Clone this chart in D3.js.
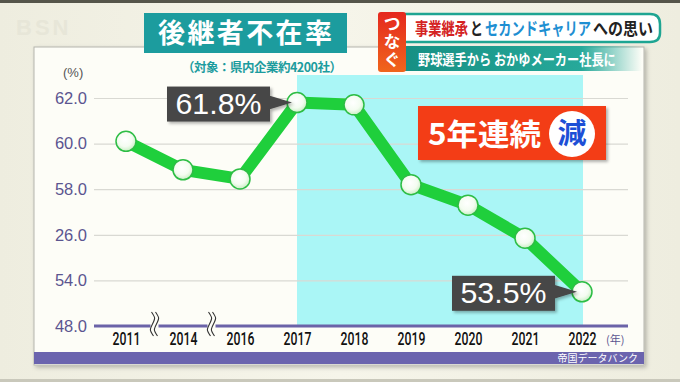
<!DOCTYPE html>
<html><head><meta charset="utf-8">
<script src="https://cdn.jsdelivr.net/npm/d3@7"></script>
<style>
html,body{margin:0;padding:0;background:#f1f0e3;}
svg{display:block;}
</style></head>
<body>
<svg id="c" width="680" height="382"></svg>
<script>
// ---- data ----
const years = ["2011","2014","2016","2017","2018","2019","2020","2021","2022"];
const rates = [60.1, 58.85, 58.45, 61.8, 61.7, 58.2, 57.3, 55.85, 53.5];
const yTickValues = [62, 60, 58, 56, 54, 52];
const yTickLabels = ["62.0", "60.0", "58.0", "26.0", "54.0", "48.0"];
const highlightFrom = "2017", highlightTo = "2022";
const callouts = [{year:"2017", text:"61.8%"}, {year:"2022", text:"53.5%"}];

const svg = d3.select("#c");
const defs = svg.append("defs");

// helper: squeeze a text horizontally to a target width using a transform
function fitText(sel, x0, yb, w){
  const nat = sel.node().getComputedTextLength();
  const sx = Math.min(1.2, w / nat);
  sel.attr("x", 0).attr("y", 0).attr("transform", `translate(${x0},${yb}) scale(${sx},1)`);
  return sel;
}

// background
const bg = defs.append("linearGradient").attr("id","bg").attr("x1",0).attr("x2",1).attr("y1",0).attr("y2",0);
bg.append("stop").attr("offset","0").attr("stop-color","#eeeddf");
bg.append("stop").attr("offset","0.5").attr("stop-color","#f6f5ea");
bg.append("stop").attr("offset","1").attr("stop-color","#eeeddf");
svg.append("rect").attr("width",680).attr("height",382).attr("fill","url(#bg)");
svg.append("rect").attr("width",680).attr("height",3).attr("fill","#55554a");
svg.append("rect").attr("y",379).attr("width",680).attr("height",3).attr("fill","#c9c8bb");

// BSN logo (faint)
svg.append("text").attr("x",16).attr("y",35).text("BSN")
  .attr("font-family","Liberation Sans, sans-serif").attr("font-weight","bold")
  .attr("font-size",22).attr("fill","#e7e6d8").attr("letter-spacing",3);

// panel
const sh = defs.append("filter").attr("id","sh").attr("x","-5%").attr("y","-5%").attr("width","115%").attr("height","115%");
sh.append("feDropShadow").attr("dx",2).attr("dy",2).attr("stdDeviation",2).attr("flood-color","#000").attr("flood-opacity",0.25);
svg.append("rect").attr("x",34).attr("y",47).attr("width",610).attr("height",318)
  .attr("fill","#fdfdf7").attr("stroke","#b5b5ad").attr("stroke-width",1).attr("filter","url(#sh)");

// scales
const x = d3.scalePoint().domain(years).range([126, 582]);
const y = d3.scaleLinear().domain([52, 62]).range([326, 98]);

// highlight band
svg.append("rect").attr("x", x(highlightFrom)).attr("y", 75)
  .attr("width", x(highlightTo) - x(highlightFrom) + 1).attr("height", y(52) - 75)
  .attr("fill", "#aaf6f6");

// y axis with gridlines
const gy = svg.append("g").attr("transform","translate(94,0)")
  .call(d3.axisLeft(y).tickValues(yTickValues).tickFormat((d,i)=>yTickLabels[i]).tickSize(-534).tickPadding(7));
gy.select(".domain").remove();
gy.selectAll(".tick line").attr("stroke","#d9d9d3").attr("stroke-width",1.2);
gy.selectAll(".tick text").attr("font-family","Liberation Sans, Arial, sans-serif")
  .attr("font-size",16.5).attr("fill","#5b5590");
gy.selectAll(".tick").filter(d=>d===52).select("line").remove();

// baseline
svg.append("line").attr("x1",94).attr("x2",628).attr("y1",y(52)).attr("y2",y(52))
  .attr("stroke","#6b63a8").attr("stroke-width",3);

// x axis labels
const gx = svg.append("g").attr("transform",`translate(0,${y(52)})`)
  .call(d3.axisBottom(x).tickSize(0).tickPadding(0));
gx.select(".domain").remove();
gx.selectAll(".tick text").attr("dy",null).attr("y",19.5)
  .attr("font-family","Roboto, Liberation Sans, sans-serif").attr("font-weight",500)
  .attr("font-size",18).attr("fill","#111").attr("transform","scale(0.68,1)");

svg.append("text").attr("x",606).attr("y",344).text("(年)")
  .attr("font-family","Noto Sans CJK JP").attr("font-size",11).attr("fill","#5b5590");
svg.append("text").attr("x",63).attr("y",77).text("(%)")
  .attr("font-family","Liberation Sans, sans-serif").attr("font-size",13).attr("fill","#555");

// break marks
function breakMark(cx){
  const g = svg.append("g");
  g.append("rect").attr("x",cx-4).attr("y",y(52)-2.5).attr("width",8).attr("height",5).attr("fill","#fdfdf7");
  [-2,2].forEach(o=>{
    const xx = cx+o;
    g.append("path").attr("d",`M${xx-1},312 C${xx+3},318 ${xx+3},318 ${xx},324 C${xx-3},330 ${xx-3},330 ${xx+1},336`)
      .attr("fill","none").attr("stroke","#333").attr("stroke-width",1.1);
  });
}
breakMark((x("2011")+x("2014"))/2);
breakMark((x("2014")+x("2016"))/2);

// line
const data = years.map((yr,i)=>({yr, v:rates[i]}));
svg.append("path").datum(data)
  .attr("d", d3.line().x(d=>x(d.yr)).y(d=>y(d.v)))
  .attr("fill","none").attr("stroke","#1fcf3c").attr("stroke-width",12)
  .attr("stroke-linejoin","round").attr("stroke-linecap","round");

// points
const rg = defs.append("radialGradient").attr("id","pt").attr("cx","45%").attr("cy","40%").attr("r","60%");
rg.append("stop").attr("offset","0").attr("stop-color","#ffffff");
rg.append("stop").attr("offset","0.6").attr("stop-color","#f4fcf1");
rg.append("stop").attr("offset","1").attr("stop-color","#c9efc4");
svg.selectAll("circle.pt").data(data).enter().append("circle").attr("class","pt")
  .attr("cx",d=>x(d.yr)).attr("cy",d=>y(d.v)).attr("r",10)
  .attr("fill","url(#pt)").attr("stroke","#2dbd45").attr("stroke-width",1.5);

// callouts
const cs = defs.append("filter").attr("id","cs").attr("x","-10%").attr("y","-10%").attr("width","130%").attr("height","140%");
cs.append("feDropShadow").attr("dx",2).attr("dy",2).attr("stdDeviation",1.5).attr("flood-color","#000").attr("flood-opacity",0.3);
callouts.forEach(c=>{
  const i = years.indexOf(c.year);
  const px = x(c.year), py = y(rates[i]);
  const g = svg.append("g").attr("filter","url(#cs)");
  const bx = px - 130, bw = 103, by = py - 16, bh = 35;
  g.append("path").attr("d",`M${bx+bw-1},${py-7} L${px-5},${py} L${bx+bw-1},${py+7} Z`).attr("fill","#464646");
  g.append("rect").attr("x",bx).attr("y",by).attr("width",bw).attr("height",bh).attr("fill","#464646");
  svg.append("text").attr("x",bx+bw/2).attr("y",by+bh/2+10).attr("text-anchor","middle")
    .text(c.text).attr("font-family","Liberation Sans, Arial, sans-serif").attr("font-size",29)
    .attr("fill","#fff").attr("textLength",86).attr("lengthAdjust","spacingAndGlyphs");
});

// 5年連続減 badge
svg.append("rect").attr("x",418).attr("y",106).attr("width",188).attr("height",54)
  .attr("fill","#f33e14").attr("filter","url(#cs)");
fitText(svg.append("text").text("5年連続")
  .attr("font-family","Noto Sans CJK JP").attr("font-weight","bold").attr("font-size",30)
  .attr("fill","#fff"), 428, 145, 113);
svg.append("circle").attr("cx",572).attr("cy",134).attr("r",23).attr("fill","#fff");
svg.append("text").attr("x",572).attr("y",144).attr("text-anchor","middle").text("減")
  .attr("font-family","Noto Sans CJK JP").attr("font-weight","bold").attr("font-size",29).attr("fill","#1d4fd6");

// title
svg.append("rect").attr("x",144).attr("y",13).attr("width",203).attr("height",40).attr("fill","#1c9c9e");
svg.append("text").attr("x",245).attr("y",43).attr("text-anchor","middle").text("後継者不在率")
  .attr("font-family","Noto Sans CJK JP").attr("font-weight","bold").attr("font-size",27)
  .attr("fill","#fff").attr("textLength",174);
svg.append("text").attr("x",182).attr("y",72).text("（対象：県内企業約4200社）")
  .attr("font-family","Noto Sans CJK JP").attr("font-weight","bold").attr("font-size",12.5)
  .attr("fill","#1c9c9e").attr("textLength",160);

// header top-right
const tg = defs.append("linearGradient").attr("id","tg").attr("x1",0).attr("x2",1).attr("y1",0).attr("y2",0);
tg.append("stop").attr("offset","0").attr("stop-color","#168f83");
tg.append("stop").attr("offset","0.75").attr("stop-color","#27a99a");
tg.append("stop").attr("offset","1").attr("stop-color","#27a99a").attr("stop-opacity",0);
svg.append("rect").attr("x",400).attr("y",46).attr("width",242).attr("height",25).attr("fill","url(#tg)");
fitText(svg.append("text").text("野球選手から おかゆメーカー社長に")
  .attr("font-family","Noto Sans CJK JP").attr("font-weight","bold").attr("font-size",15)
  .attr("fill","#fff"), 418, 65, 198);

svg.append("path").attr("d","M400,14 H650 Q660,14 660,24 V33 Q660,42 650,42 H400 Z")
  .attr("fill","#fff").attr("stroke","#1ea592").attr("stroke-width",2.5);
[
  {t:"事業継承", x0:415, x1:468, c:"#d42222"},
  {t:"と", x0:470, x1:483, c:"#222"},
  {t:"セカンドキャリア", x0:485, x1:591, c:"#1e8fd2"},
  {t:"への思い", x0:593, x1:653, c:"#222"}
].forEach(p=>{
  fitText(svg.append("text").text(p.t)
    .attr("font-family","Noto Sans CJK JP").attr("font-weight","bold").attr("font-size",17.5)
    .attr("fill",p.c), p.x0, 35, p.x1-p.x0);
});

const rgd = defs.append("linearGradient").attr("id","rg").attr("x1",0).attr("x2",0).attr("y1",0).attr("y2",1);
rgd.append("stop").attr("offset","0").attr("stop-color","#e5281e");
rgd.append("stop").attr("offset","1").attr("stop-color","#f0651c");
svg.append("rect").attr("x",378).attr("y",12).attr("width",28).attr("height",60).attr("rx",3).attr("fill","url(#rg)");
svg.append("text").attr("x",392).attr("y",15).text("つなぐ")
  .attr("writing-mode","tb").style("writing-mode","vertical-rl")
  .attr("font-family","Noto Sans CJK JP").attr("font-weight","bold").attr("font-size",17)
  .attr("letter-spacing",1).attr("fill","#fff");

// footer
svg.append("rect").attr("x",34).attr("y",352).attr("width",610).attr("height",12).attr("fill","#6b64ae");
svg.append("text").attr("x",638).attr("y",362).attr("text-anchor","end").text("帝国データバンク")
  .attr("font-family","Noto Sans CJK JP").attr("font-size",10).attr("fill","#fff");
</script>
</body></html>
